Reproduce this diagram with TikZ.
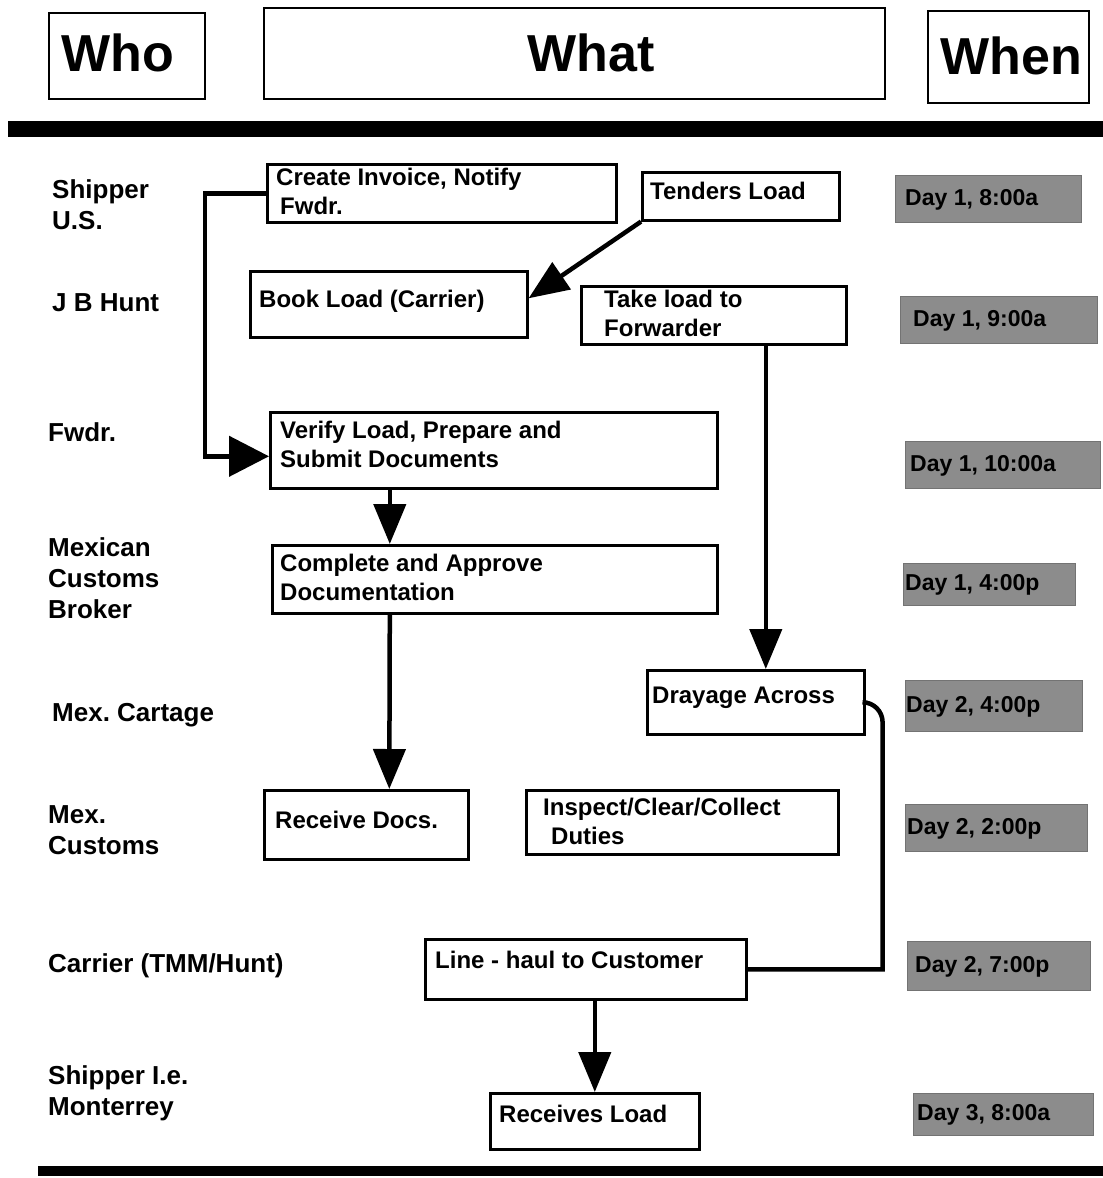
\documentclass[tikz,border=0pt]{standalone}
\usepackage{fontspec}
\setmainfont{Liberation Sans}
\usetikzlibrary{arrows.meta,calc}
\frenchspacing
\begin{document}
\begin{tikzpicture}[x=1pt,y=-1pt,
 box/.style={draw, line width=2.6pt, inner sep=0pt, anchor=north west},
 hbox/.style={draw, line width=2pt, inner sep=0pt, anchor=north west},
 day/.style={fill=black!45, draw=black!55, line width=0.5pt, inner sep=0pt, anchor=north west},
 txt/.style={anchor=west, inner sep=0pt, align=left, font=\fontsize{24}{29}\selectfont\bfseries},
 who/.style={anchor=west, inner sep=0pt, align=left, font=\fontsize{26}{31}\selectfont\bfseries},
 head/.style={inner sep=0pt, font=\fontsize{52}{60}\selectfont\bfseries},
 daytxt/.style={anchor=west, inner sep=0pt, font=\fontsize{23}{28}\selectfont\bfseries},
 conn/.style={line width=4.5pt, -{Triangle[length=40pt,width=32pt]}},
 link/.style={line width=4.5pt},
 ]
\useasboundingbox (0,0) rectangle (1103,1178);

% header
\node[hbox, minimum width=156pt, minimum height=86pt] (hwho) at (48,12) {};
\node[hbox, minimum width=621pt, minimum height=91pt] (hwhat) at (263,7) {};
\node[hbox, minimum width=161pt, minimum height=92pt] (hwhen) at (927,10) {};
\node[head] (twho) at (118,53) {Who};
\node[head] (twhat) at (591,53) {What};
\node[head] (twhen) at (1011,56) {When};
\fill (8,121) rectangle (1103,137);
\fill (38,1166) rectangle (1103,1176);

% who labels
\node[who] (w1) at (52,205) {Shipper\\U.S.};
\node[who] (w2) at (52,303) {J B Hunt};
\node[who] (w3) at (48,432) {Fwdr.};
\node[who] (w4) at (48,578) {Mexican\\Customs\\Broker};
\node[who] (w5) at (52,715) {Mex. Cartage};
\node[who] (w6) at (48,830) {Mex.\\Customs};
\node[who] (w7) at (48,966) {Carrier (TMM/Hunt)};
\node[who] (w8) at (48,1093) {Shipper I.e.\\Monterrey};

% what boxes
\node[box, minimum width=349pt, minimum height=58pt] (inv) at (266,163) {};
\node[box, minimum width=197pt, minimum height=48pt] (tend) at (641,171) {};
\node[box, minimum width=277pt, minimum height=66pt] (book) at (249,270) {};
\node[box, minimum width=265pt, minimum height=58pt] (take) at (580,285) {};
\node[box, minimum width=447pt, minimum height=76pt] (ver) at (269,411) {};
\node[box, minimum width=445pt, minimum height=68pt] (comp) at (271,544) {};
\node[box, minimum width=217pt, minimum height=64pt] (dray) at (646,669) {};
\node[box, minimum width=204pt, minimum height=69pt] (rd) at (263,789) {};
\node[box, minimum width=312pt, minimum height=64pt] (insp) at (525,789) {};
\node[box, minimum width=321pt, minimum height=60pt] (lh) at (424,938) {};
\node[box, minimum width=209pt, minimum height=56pt] (rl) at (489,1092) {};

\node[txt] (tinv) at (276,191.5) {Create Invoice, Notify\\\hspace{4pt}Fwdr.};
\node[txt] (ttend) at (650,191) {Tenders Load};
\node[txt] (tbook) at (259,301) {Book Load (Carrier)};
\node[txt] (ttake) at (604,313) {Take load to\\Forwarder};
\node[txt] (tver) at (280,444.5) {Verify Load, Prepare and\\Submit Documents};
\node[txt] (tcomp) at (280,577.5) {Complete and Approve\\Documentation};
\node[txt] (tdray) at (652,698) {Drayage Across};
\node[txt] (trd) at (275,820) {Receive Docs.};
\node[txt] (tinsp) at (543,821) {Inspect/Clear/Collect\\\hspace{8pt}Duties};
\node[txt] (tlh) at (435,960) {Line - haul to Customer};
\node[txt] (trl) at (499,1114) {Receives Load};

% when boxes
\node[day, minimum width=186pt, minimum height=47pt] (d1) at (895,175) {};
\node[day, minimum width=197pt, minimum height=47pt] (d2) at (900,296) {};
\node[day, minimum width=195pt, minimum height=47pt] (d3) at (905,441) {};
\node[day, minimum width=172pt, minimum height=42pt] (d4) at (903,563) {};
\node[day, minimum width=177pt, minimum height=51pt] (d5) at (905,680) {};
\node[day, minimum width=182pt, minimum height=47pt] (d6) at (905,804) {};
\node[day, minimum width=183pt, minimum height=49pt] (d7) at (907,941) {};
\node[day, minimum width=180pt, minimum height=42pt] (d8) at (913,1093) {};
\node[daytxt] (t1) at ($(d1.west)+(10,1)$) {Day 1, 8:00a};
\node[daytxt] (t2) at ($(d2.west)+(13,1)$) {Day 1, 9:00a};
\node[daytxt] (t3) at ($(d3.west)+(5,1)$) {Day 1, 10:00a};
\node[daytxt] (t4) at ($(d4.west)+(2,1)$) {Day 1, 4:00p};
\node[daytxt] (t5) at ($(d5.west)+(1,1)$) {Day 2, 4:00p};
\node[daytxt] (t6) at ($(d6.west)+(2,1)$) {Day 2, 2:00p};
\node[daytxt] (t7) at ($(d7.west)+(8,1)$) {Day 2, 7:00p};
\node[daytxt] (t8) at ($(d8.west)+(4,1)$) {Day 3, 8:00a};

% connectors
\draw[conn, -{Triangle[length=40pt,width=40pt]}] (inv.west) -- ++(-61,0) |- ($(ver.west)+(0,6)$);
\draw[conn] (tend.south west) -- ($(book.east)+(0,-6)$);
\draw[conn] ($(dray.north |- take.south)+(10,0)$) -- ($(dray.north)+(10,0)$);
\draw[conn] ($(ver.south)+(-104,0)$) -- ($(comp.north)+(-105,0)$);
\draw[conn] ($(comp.south)+(-105,0)$) -- ($(rd.north)+(23,0)$);
\draw[link] (dray.east) [rounded corners=20pt] -- ++(17,0) -- ++(0,100) [sharp corners] |- (lh.east);
\draw[conn] (rl.north |- lh.south) -- (rl.north);
\end{tikzpicture}
\end{document}
